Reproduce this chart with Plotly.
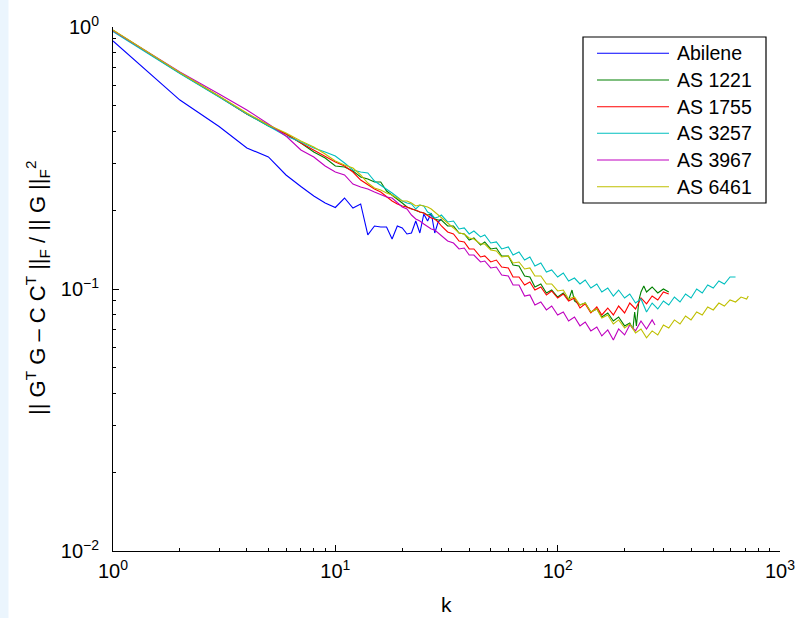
import plotly.graph_objects as go

# ---- data: relative Frobenius error vs. number of components k ----
series_names = ["Abilene", "AS 1221", "AS 1755", "AS 3257", "AS 3967", "AS 6461"]
series_colors = ["#0000ff", "#008000", "#ff0000", "#00bfbf", "#bf00bf", "#bfbf00"]

k_abilene = list(range(1, 31))
err_abilene = [0.8842, 0.5263, 0.4171, 0.3453, 0.3191, 0.2724, 0.2461, 0.2264, 0.2129, 0.2047,
               0.2225, 0.2038, 0.2111, 0.1608, 0.1740, 0.1725, 0.1725, 0.1552, 0.1740, 0.1710,
               0.1622, 0.1636, 0.1818, 0.1636, 0.1933, 0.1818, 0.1950, 0.1636, 0.1802, 0.1850]

k_as1221 = list(range(1, 30)) + [30, 32, 34, 36, 38, 40, 42, 45, 47, 50, 53, 56, 60, 63, 67, 71,
                                 75, 79, 84, 89, 94, 100, 106, 112, 116, 119, 126, 133, 141, 150,
                                 158, 168, 178, 188, 200, 211, 218, 222, 226, 232, 237, 244, 251,
                                 266, 282, 299, 316]
err_as1221 = [0.9697, 0.6674, 0.5428, 0.4655, 0.4189, 0.3904, 0.3607, 0.3334, 0.3162, 0.2947,
              0.2922, 0.2821, 0.2676, 0.2630, 0.2561, 0.2561, 0.2366, 0.2284, 0.2205, 0.2129,
              0.2056, 0.2020, 0.1985, 0.1967, 0.1950, 0.1916, 0.1933, 0.1850, 0.1834,
              0.1834, 0.1740, 0.1740, 0.1636, 0.1622, 0.1538, 0.1566, 0.1472, 0.1512, 0.1422,
              0.1434, 0.1337, 0.1337, 0.1235, 0.1224, 0.1121, 0.1111, 0.1018, 0.1045, 0.0966,
              0.0991, 0.0932, 0.0966, 0.0908, 0.0991, 0.0900, 0.0869, 0.0884, 0.0817, 0.0839,
              0.0782, 0.0810, 0.0755, 0.0782, 0.0723, 0.0742, 0.0704, 0.0817, 0.0723, 0.0908,
              0.0974, 0.1027, 0.0974, 0.1018, 0.0966, 0.1000, 0.0974]

k_as1755 = list(range(1, 30)) + [30, 32, 34, 36, 38, 40, 42, 45, 47, 50, 53, 56, 60, 63, 67, 71,
                                 75, 79, 84, 89, 94, 100, 106, 112, 119, 126, 133, 141, 150, 158,
                                 168, 178, 188, 200, 211, 224, 237, 251, 266, 282, 299, 316]
err_as1755 = [0.9697, 0.6674, 0.5428, 0.4655, 0.4226, 0.3904, 0.3607, 0.3393, 0.3191, 0.3052,
              0.2947, 0.2796, 0.2606, 0.2494, 0.2408, 0.2345, 0.2244, 0.2167, 0.2111, 0.2074,
              0.2056, 0.2020, 0.2002, 0.1967, 0.1950, 0.1899, 0.1866, 0.1850, 0.1802,
              0.1740, 0.1651, 0.1622, 0.1525, 0.1512, 0.1422, 0.1422, 0.1325, 0.1337, 0.1268,
              0.1290, 0.1213, 0.1203, 0.1111, 0.1111, 0.1036, 0.1063, 0.0991, 0.1018, 0.0949,
              0.0983, 0.0924, 0.0957, 0.0900, 0.0924, 0.0846, 0.0877, 0.0810, 0.0854, 0.0796,
              0.0846, 0.0796, 0.0861, 0.0810, 0.0884, 0.0839, 0.0924, 0.0877, 0.0940, 0.0908,
              0.0974, 0.0957]

k_as3257 = list(range(1, 30)) + [30, 32, 34, 36, 38, 40, 42, 45, 47, 50, 53, 56, 60, 63, 67, 71,
                                 75, 79, 84, 89, 94, 100, 106, 112, 119, 126, 133, 141, 150, 158,
                                 168, 178, 188, 200, 211, 224, 237, 251, 266, 282, 299, 316, 335,
                                 355, 376, 398, 422, 447, 473, 501, 531, 562, 596, 631]
err_as3257 = [0.9612, 0.6645, 0.5405, 0.4655, 0.4189, 0.3836, 0.3639, 0.3453, 0.3334, 0.3219,
              0.3026, 0.2846, 0.2796, 0.2772, 0.2584, 0.2494, 0.2408, 0.2325, 0.2244, 0.2167,
              0.2129, 0.2111, 0.2020, 0.2092, 0.2074, 0.1967, 0.1933, 0.1866, 0.1883,
              0.1916, 0.1802, 0.1818, 0.1695, 0.1710, 0.1622, 0.1665, 0.1580, 0.1608, 0.1498,
              0.1512, 0.1422, 0.1447, 0.1348, 0.1385, 0.1290, 0.1325, 0.1224, 0.1257, 0.1161,
              0.1182, 0.1111, 0.1151, 0.1073, 0.1101, 0.1045, 0.1082, 0.1009, 0.1045, 0.0974,
              0.1009, 0.0940, 0.0991, 0.0924, 0.0957, 0.0884, 0.0916, 0.0817, 0.0884, 0.0839,
              0.0900, 0.0869, 0.0932, 0.0892, 0.0957, 0.0924, 0.1000, 0.0966, 0.1036, 0.1009,
              0.1073, 0.1045, 0.1111, 0.1111]

k_as3967 = list(range(1, 30)) + [30, 32, 34, 36, 38, 40, 42, 45, 47, 50, 53, 56, 60, 63, 67, 71,
                                 75, 79, 84, 89, 94, 100, 106, 112, 119, 126, 133, 141, 150, 158,
                                 168, 178, 188, 200, 211, 224, 237, 251, 266, 274]
err_as3967 = [0.9697, 0.6733, 0.5549, 0.4823, 0.4263, 0.3836, 0.3393, 0.3191, 0.2947, 0.2796,
              0.2724, 0.2516, 0.2451, 0.2408, 0.2345, 0.2284, 0.2244, 0.2225, 0.2129, 0.2056,
              0.2020, 0.1916, 0.1850, 0.1818, 0.1771, 0.1725, 0.1695, 0.1680, 0.1636,
              0.1608, 0.1525, 0.1498, 0.1422, 0.1434, 0.1348, 0.1348, 0.1268, 0.1279, 0.1203,
              0.1213, 0.1131, 0.1121, 0.1036, 0.1036, 0.0940, 0.0949, 0.0869, 0.0892, 0.0832,
              0.0861, 0.0796, 0.0817, 0.0755, 0.0782, 0.0723, 0.0748, 0.0692, 0.0716, 0.0662,
              0.0698, 0.0639, 0.0704, 0.0668, 0.0729, 0.0692, 0.0755, 0.0704, 0.0762, 0.0729]

k_as6461 = list(range(1, 30)) + [30, 32, 34, 36, 38, 40, 42, 45, 47, 50, 53, 56, 60, 63, 67, 71,
                                 75, 79, 84, 89, 94, 100, 106, 112, 119, 126, 133, 141, 150, 158,
                                 168, 178, 188, 200, 211, 224, 237, 251, 266, 282, 299, 316, 335,
                                 355, 376, 398, 422, 447, 473, 501, 531, 562, 596, 631, 668, 708,
                                 720]
err_as6461 = [0.9740, 0.6704, 0.5452, 0.4696, 0.4226, 0.3939, 0.3671, 0.3483, 0.3276, 0.3079,
              0.2973, 0.2896, 0.2724, 0.2538, 0.2429, 0.2387, 0.2325, 0.2284, 0.2225, 0.2167,
              0.2167, 0.2129, 0.2074, 0.2092, 0.2074, 0.2056, 0.2020, 0.1967, 0.1933,
              0.1883, 0.1786, 0.1710, 0.1636, 0.1622, 0.1566, 0.1552, 0.1485, 0.1485, 0.1409,
              0.1397, 0.1325, 0.1337, 0.1257, 0.1268, 0.1192, 0.1203, 0.1121, 0.1121, 0.1045,
              0.1045, 0.0983, 0.0991, 0.0916, 0.0932, 0.0869, 0.0884, 0.0817, 0.0839, 0.0775,
              0.0796, 0.0735, 0.0762, 0.0710, 0.0735, 0.0680, 0.0704, 0.0651, 0.0692, 0.0668,
              0.0729, 0.0710, 0.0762, 0.0735, 0.0789, 0.0762, 0.0817, 0.0796, 0.0854, 0.0832,
              0.0884, 0.0861, 0.0908, 0.0892, 0.0932, 0.0916, 0.0940]

x_major = [1, 10, 100, 1000]
x_major_text = ["10<sup>0</sup>", "10<sup>1</sup>", "10<sup>2</sup>", "10<sup>3</sup>"]
y_major = [0.01, 0.1, 1]
y_major_text = ["10<sup>\u22122</sup>", "10<sup>\u22121</sup>", "10<sup>0</sup>"]

# ---- figure geometry (pixels) ----
W, H = 796, 618
L, R, T, B = 113, 780, 27, 551
PW, PH = R - L, B - T


def px(x):
    return (x - L) / PW


def py(y):
    return (B - y) / PH


FONT = "Arial, Liberation Sans, sans-serif"

fig = go.Figure()
all_k = [k_abilene, k_as1221, k_as1755, k_as3257, k_as3967, k_as6461]
all_err = [err_abilene, err_as1221, err_as1755, err_as3257, err_as3967, err_as6461]
for name, color, ks, es in zip(series_names, series_colors, all_k, all_err):
    fig.add_trace(go.Scatter(x=ks, y=es, mode="lines", name=name,
                             line=dict(color=color, width=1.1), showlegend=False))

x_minor = [m * d for d in (1, 10, 100) for m in range(2, 10)]
y_minor = [round(m * d, 4) for d in (0.01, 0.1) for m in range(2, 10)]

axis_common = dict(showline=True, linecolor="black", linewidth=1, mirror=False,
                   ticks="inside", ticklen=6, tickwidth=1, tickcolor="black",
                   showgrid=False, zeroline=False, automargin=False,
                   tickfont=dict(family=FONT, size=20, color="black"))

fig.update_xaxes(type="log", range=[0, 3], tickmode="array", tickvals=x_major,
                 ticktext=x_major_text, ticklabelstandoff=2,
                 minor=dict(tickmode="array", tickvals=x_minor, ticks="inside",
                            ticklen=3, tickcolor="black", showgrid=False),
                 **axis_common)
fig.update_yaxes(type="log", range=[-2, 0], tickmode="array", tickvals=y_major,
                 ticktext=y_major_text, ticklabelstandoff=9,
                 minor=dict(tickmode="array", tickvals=y_minor, ticks="inside",
                            ticklen=3, tickcolor="black", showgrid=False),
                 **axis_common)

shapes = []
# pale strip along the left edge of the page
shapes.append(dict(type="rect", xref="paper", yref="paper", x0=px(0), x1=px(8.5),
                   y0=py(H), y1=py(0), fillcolor="#ebf5fd", line=dict(width=0), layer="below"))

# legend box, line samples and labels
lx0, lx1, ly0, ly1 = 583, 766, 37, 203
shapes.append(dict(type="rect", xref="paper", yref="paper", x0=px(lx0), x1=px(lx1),
                   y0=py(ly1), y1=py(ly0), fillcolor="white",
                   line=dict(color="black", width=1.2)))
annotations = []
row_y = [53.3, 80, 106.7, 133.3, 160, 186.7]
for name, color, ry in zip(series_names, series_colors, row_y):
    shapes.append(dict(type="line", xref="paper", yref="paper", x0=px(597), x1=px(669),
                       y0=py(ry), y1=py(ry), line=dict(color=color, width=1.1)))
    annotations.append(dict(xref="paper", yref="paper", x=px(675), y=py(ry), text=name,
                            showarrow=False, xanchor="left", yanchor="middle",
                            font=dict(family=FONT, size=19.5, color="black")))

# axis titles
annotations.append(dict(xref="paper", yref="paper", x=px(446.5), y=py(604), text="k",
                        showarrow=False, xanchor="center", yanchor="middle",
                        font=dict(family=FONT, size=21, color="black")))
annotations.append(dict(xref="paper", yref="paper", x=px(37), y=py(288),
                        text="|| G<sup>T</sup> G \u2013 C C<sup>T</sup> ||<sub>F</sub> / || G ||<sub>F</sub><sup>2</sup>",
                        textangle=-90, showarrow=False, xanchor="center", yanchor="middle",
                        font=dict(family=FONT, size=22, color="black")))

fig.update_layout(width=W, height=H, margin=dict(l=L, r=W - R, t=T, b=H - B, autoexpand=False),
                  paper_bgcolor="white", plot_bgcolor="white",
                  shapes=shapes, annotations=annotations, showlegend=False,
                  font=dict(family=FONT, color="black"))

fig.write_html("out.html")
